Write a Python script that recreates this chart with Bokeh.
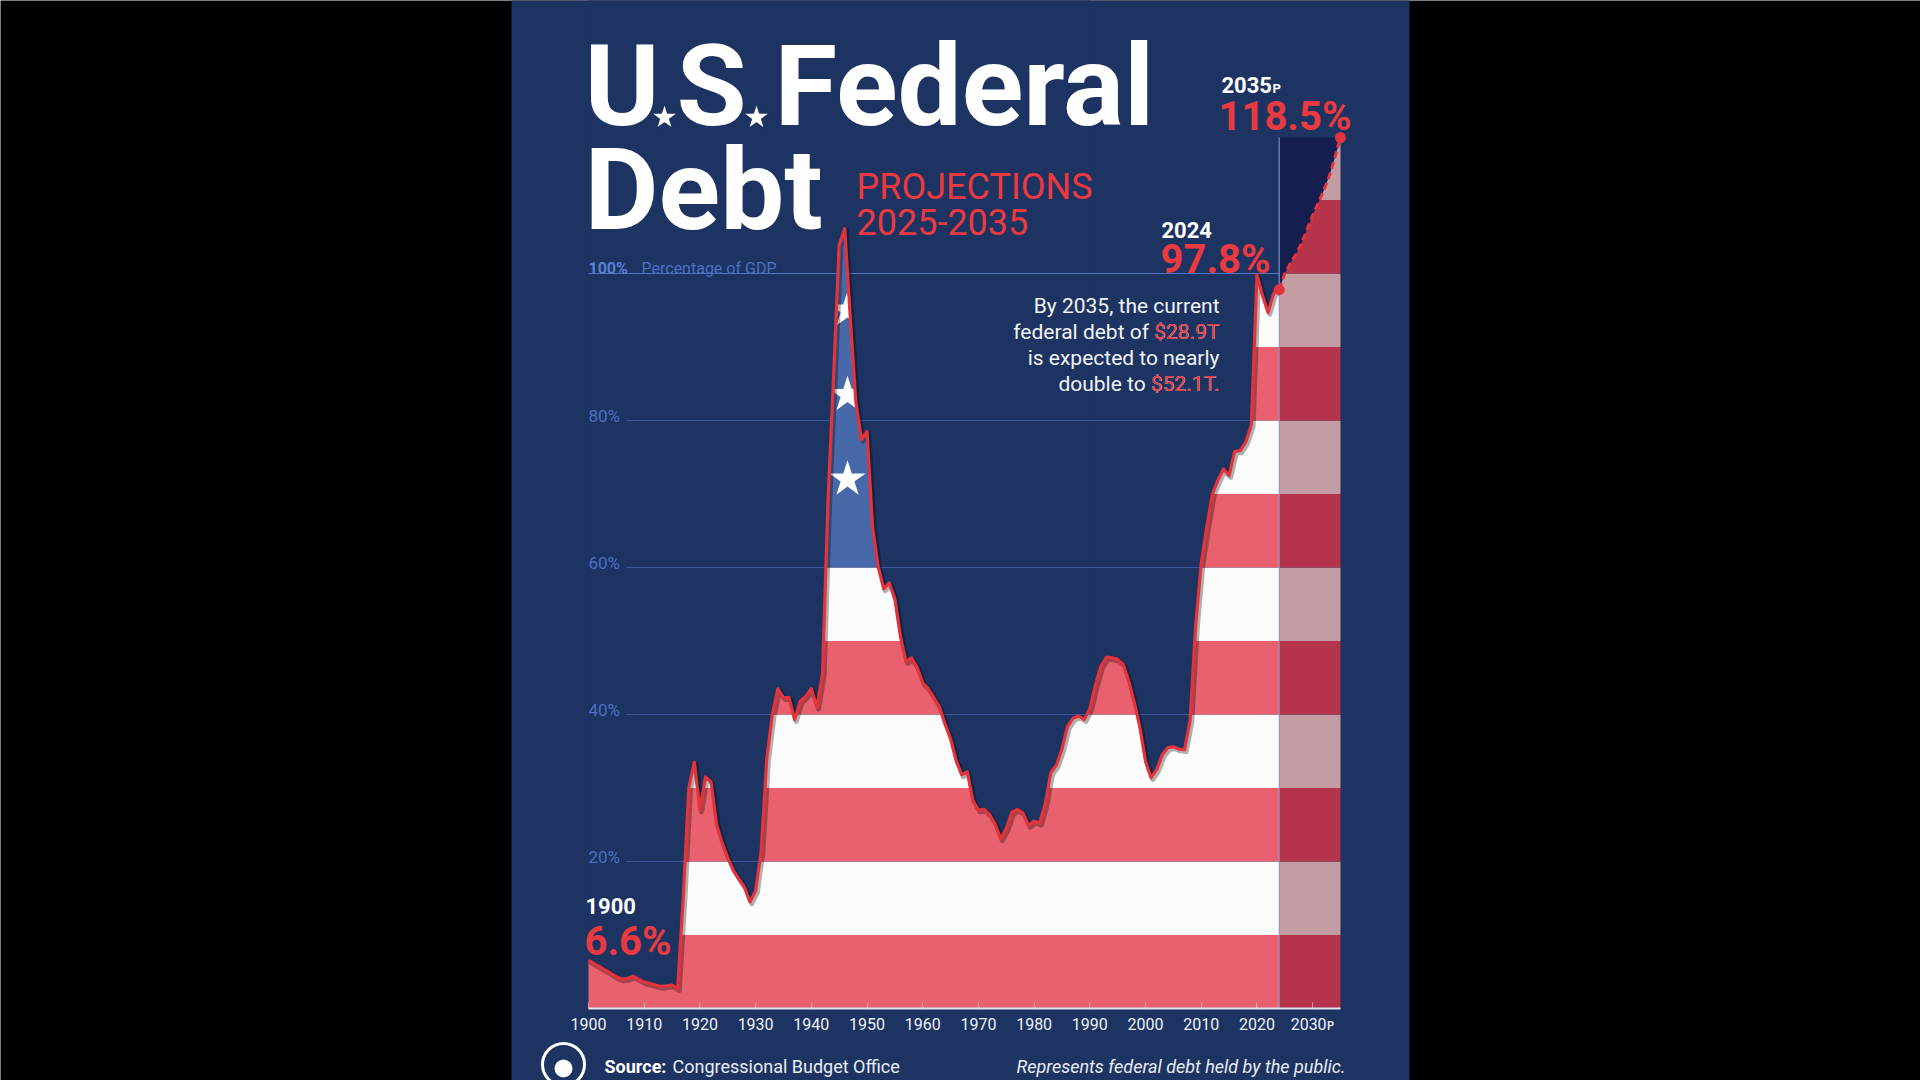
import numpy as np
from bokeh.plotting import figure
from bokeh.models import Range1d, LinearAxis, FixedTicker
from bokeh.core.properties import value
from bokeh.embed import file_html
from bokeh.resources import INLINE

# ---------------- data ----------------
years_hist = list(range(1900, 2025))
debt_hist = [
    6.6, 6.1, 5.7, 5.2, 4.8, 4.3, 4.0, 4.1, 4.4, 4.0,          # 1900-1909
    3.6, 3.4, 3.2, 3.0, 3.1, 3.2, 2.7, 15.0, 30.0, 33.5,       # 1910-1919
    27.0, 31.5, 30.8, 25.0, 22.5, 20.5, 18.8, 17.6, 16.5, 14.5,  # 1920-1929
    16.0, 21.5, 34.0, 40.0, 43.5, 42.3, 42.3, 39.3, 41.8, 42.5,  # 1930-1939
    43.5, 41.0, 45.5, 69.2, 86.0, 103.9, 106.1, 93.9, 82.4, 77.4,  # 1940-1949
    78.5, 65.4, 60.1, 57.1, 57.9, 55.7, 50.6, 47.2, 47.7, 46.4,  # 1950-1959
    44.3, 43.5, 42.3, 41.0, 38.7, 36.7, 33.7, 31.8, 32.2, 28.3,  # 1960-1969
    27.0, 27.1, 26.4, 25.1, 23.1, 24.5, 26.7, 27.1, 26.6, 24.9,  # 1970-1979
    25.5, 25.2, 27.9, 32.1, 33.1, 35.3, 38.4, 39.5, 39.8, 39.3,  # 1980-1989
    40.8, 44.0, 46.6, 47.8, 47.7, 47.5, 46.8, 44.5, 41.6, 38.2,  # 1990-1999
    33.6, 31.4, 32.5, 34.5, 35.5, 35.6, 35.3, 35.2, 39.2, 52.2,  # 2000-2009
    60.6, 65.5, 70.0, 71.9, 73.4, 72.5, 75.8, 75.9, 77.1, 79.4,  # 2010-2019
    99.8, 97.0, 94.7, 97.3, 97.8,                                # 2020-2024
]
years_proj = list(range(2024, 2036))
debt_proj = [97.8, 100.0, 101.4, 102.6, 104.1, 106.0, 107.9, 109.6, 111.3, 113.3, 115.8, 118.5]

x_ticks = list(range(1900, 2031, 10))
x_tick_labels = {t: str(t) for t in x_ticks}
x_tick_labels[2030] = "2030\u1d18"
y_ticks = [20, 40, 60, 80, 100]
y_tick_labels = ["20%", "40%", "60%", "80%", "100%"]
stripe_edges = list(range(0, 130, 10))

# ---------------- geometry (page pixels of the reference) ----------------
FIG_W, FIG_H = 1920, 1080
OFF = 0
X0_PX, X1_PX = 588.0, 1340.0      # page x of 1900 and 2035
Y0_PX = 1008.0                    # page y of 0 %
PX_PER_PCT = 7.35
PX_PER_YR = (X1_PX - X0_PX) / 135.0
LIFT = 0.38                       # baseline correction (em)


def X(px):
    return 1900 + (px - X0_PX) / PX_PER_YR


def Y(py):
    return (Y0_PX - py) / PX_PER_PCT


x_lo, x_hi = X(OFF), X(OFF + FIG_W)
y_lo, y_hi = Y(OFF + FIG_H), Y(OFF)

NAVY = "#1d3362"
CANTON = "#4768a9"
RED = "#e9606e"
WHITE = "#fbfbfb"
PRED = "#b5344b"
PPINK = "#c39ca4"
PNAVY = "#141f4f"
LINE_RED = "#e3333b"
TXT_RED = "#ea3a40"
GRID = "#38589a"
YLAB = "#4b6fc3"

SANS = "Roboto, Noto Sans, sans-serif"

p = figure(width=FIG_W, height=FIG_H, x_range=Range1d(x_lo, x_hi), y_range=Range1d(y_lo, y_hi),
           output_backend="svg", toolbar_location=None, x_axis_type=None, y_axis_type=None,
           min_border=0, background_fill_color="#000000", border_fill_color="#000000",
           outline_line_color=None)

# poster background
p.quad(left=[X(511)], right=[X(1409)], bottom=[Y(1090)], top=[Y(-10)], fill_color=NAVY, line_color=None)

# ---------------- flag fill under historical curve ----------------
yh = np.array(years_hist, dtype=float)
dh = np.array(debt_hist, dtype=float)
xd = np.union1d(yh, np.linspace(yh[0], yh[-1], 4961))
yd = np.interp(xd, yh, dh)
CANTON_END = 1990.0
left = xd <= CANTON_END
right = xd >= CANTON_END

for i in range(len(stripe_edges) - 1):
    lo, hi = stripe_edges[i], stripe_edges[i + 1]
    col = RED if i % 2 == 0 else WHITE
    if lo < 60:
        p.varea(x=xd, y1=np.full_like(xd, lo), y2=np.clip(yd, lo, hi), fill_color=col)
    else:
        xr = xd[right]
        p.varea(x=xr, y1=np.full_like(xr, lo), y2=np.clip(yd[right], lo, hi), fill_color=col)

xl = xd[left]
p.varea(x=xl, y1=np.full_like(xl, 60), y2=np.clip(yd[left], 60, 140), fill_color=CANTON)

# stars of the canton (decorative grid, hidden outside the curve)
sx, sy = np.meshgrid(np.arange(1906.5, 1990, 8.0), np.array([72.0, 83.5, 95.0, 106.5, 118.0]))
p.scatter(x=sx.ravel(), y=sy.ravel(), marker="star", size=38, fill_color="white", line_color=None)
p.varea(x=xl, y1=yd[left], y2=np.full_like(xl, 140), fill_color=NAVY)

# ---------------- projection region ----------------
yp = np.array(years_proj, dtype=float)
dp = np.array(debt_proj, dtype=float)
xpd = np.union1d(yp, np.linspace(yp[0], yp[-1], 441))
ypd = np.interp(xpd, yp, dp)
p.varea(x=[yp[0], yp[-1]], y1=[0, 0], y2=[dp[-1], dp[-1]], fill_color=PNAVY)
for i in range(len(stripe_edges) - 1):
    lo, hi = stripe_edges[i], stripe_edges[i + 1]
    col = PRED if i % 2 == 0 else PPINK
    p.varea(x=xpd, y1=np.full_like(xpd, lo), y2=np.clip(ypd, lo, hi), fill_color=col)

# ---------------- grid lines (only over the navy background) ----------------
for lvl, lab in zip(y_ticks, y_tick_labels):
    x_start = 1900.0 if lvl == 100 else X(626)
    m = xd >= x_start
    gx = xd[m]
    gy = np.where(yd[m] < lvl, float(lvl), np.nan)
    p.line(x=gx, y=gy, line_color=GRID if lvl < 100 else "#5274c6", line_width=1.2)
    if lvl < 100:
        p.text(x=[1900], y=[lvl], text=[lab], text_font=value(SANS), text_font_size="17px",
               text_color=YLAB, text_align="left", text_baseline="alphabetic", y_offset=[2 - LIFT * 17])

p.text(x=[1900], y=[100], text=["100%"], text_font=value(SANS), text_font_size="16px",
       text_font_style="bold", text_color="#5a80d6", text_align="left", text_baseline="alphabetic",
       y_offset=[1 - LIFT * 16])
p.text(x=[X(641)], y=[100], text=["Percentage of GDP"], text_font=value(SANS), text_font_size="16px",
       text_color=YLAB, text_align="left", text_baseline="alphabetic", y_offset=[1 - LIFT * 16])

# vertical divider at the last actual year
p.segment(x0=[yp[0]], y0=[0], x1=[yp[0]], y1=[dp[-1]], line_color="#8ea6dc", line_alpha=0.8, line_width=1.2)

# ---------------- curve outlines ----------------
p.line(x=yh + 0.3, y=dh - 0.25, line_color="black", line_alpha=0.3, line_width=5, line_join="round")
p.line(x=yh, y=dh, line_color=LINE_RED, line_width=3.2, line_join="round")
p.line(x=yp, y=dp, line_color=LINE_RED, line_width=3, line_dash="7 4")
p.scatter(x=[yp[0], yp[-1]], y=[dp[0], dp[-1]], marker="circle", size=11, fill_color=LINE_RED, line_color=None)

# ---------------- x axis ----------------
xaxis = LinearAxis(fixed_location=0, ticker=FixedTicker(ticks=x_ticks), bounds=(1900, 2035),
                   axis_line_color="#dfe5f2", axis_line_width=2,
                   major_tick_in=6, major_tick_out=0, major_tick_line_color="#ffffff", major_tick_line_alpha=0.5,
                   minor_tick_line_color=None, major_label_standoff=6,
                   major_label_text_color="#eef1f7", major_label_text_font=SANS,
                   major_label_text_font_size="16px", major_label_overrides=x_tick_labels)
p.add_layout(xaxis, "below")


def txt(px, py, s, size, color, style="normal", align="left"):
    p.text(x=[X(px)], y=[Y(py - LIFT * size)], text=[s], text_font=value(SANS), text_font_size=f"{size}px",
           text_font_style=style, text_color=color, text_align=align, text_baseline="alphabetic")


# ---------------- title ----------------
txt(584, 129, "U", 114, "white", style="bold")
txt(676, 129, "S", 114, "white", style="bold")
txt(774, 129, "Federal", 114, "white", style="bold")
p.scatter(x=[X(664), X(756)], y=[Y(117), Y(117)], marker="star", size=30, fill_color="white",
          line_color=NAVY, line_width=2)
txt(584, 233, "Debt", 114, "white", style="bold")
txt(856, 200, "PROJECTIONS", 36, TXT_RED)
txt(856, 235, f"{years_proj[1]}-{years_proj[-1]}", 36, TXT_RED)

# ---------------- value call-outs ----------------
txt(1221, 93, f"{years_proj[-1]}", 22, "white", style="bold")
txt(1272, 93, "P", 13, "white", style="bold")
txt(1218, 131, f"{debt_proj[-1]}%", 40, TXT_RED, style="bold")
txt(1161, 238, f"{years_hist[-1]}", 22, "white", style="bold")
txt(1160, 274, f"{debt_hist[-1]}%", 40, TXT_RED, style="bold")
txt(585, 914, f"{years_hist[0]}", 22, "white", style="bold")
txt(584, 956, f"{debt_hist[0]}%", 40, TXT_RED, style="bold")

# ---------------- annotation ----------------
ann = ["By 2035, the current", "federal debt of $28.9T", "is expected to nearly", "double to $52.1T."]
ann_red = {1: "$28.9T", 3: "$52.1T."}
for k, line in enumerate(ann):
    txt(1219, 313 + 26 * k, line, 21, "#f2f3f7", align="right")
    if k in ann_red:
        txt(1219, 313 + 26 * k, ann_red[k], 21, TXT_RED, align="right")

# ---------------- footer ----------------
p.scatter(x=[X(563)], y=[Y(1064)], marker="circle", size=42, fill_color=None, line_color="white", line_width=3)
p.scatter(x=[X(563)], y=[Y(1068)], marker="circle", size=18, fill_color="white", line_color=None)
txt(604, 1073, "Source:", 18, "white", style="bold")
txt(672, 1073, "Congressional Budget Office", 18, "#e9edf5")
txt(1345, 1073, "Represents federal debt held by the public.", 18, "#e9edf5", style="italic", align="right")

open("out.html", "w").write(file_html(p, INLINE))
